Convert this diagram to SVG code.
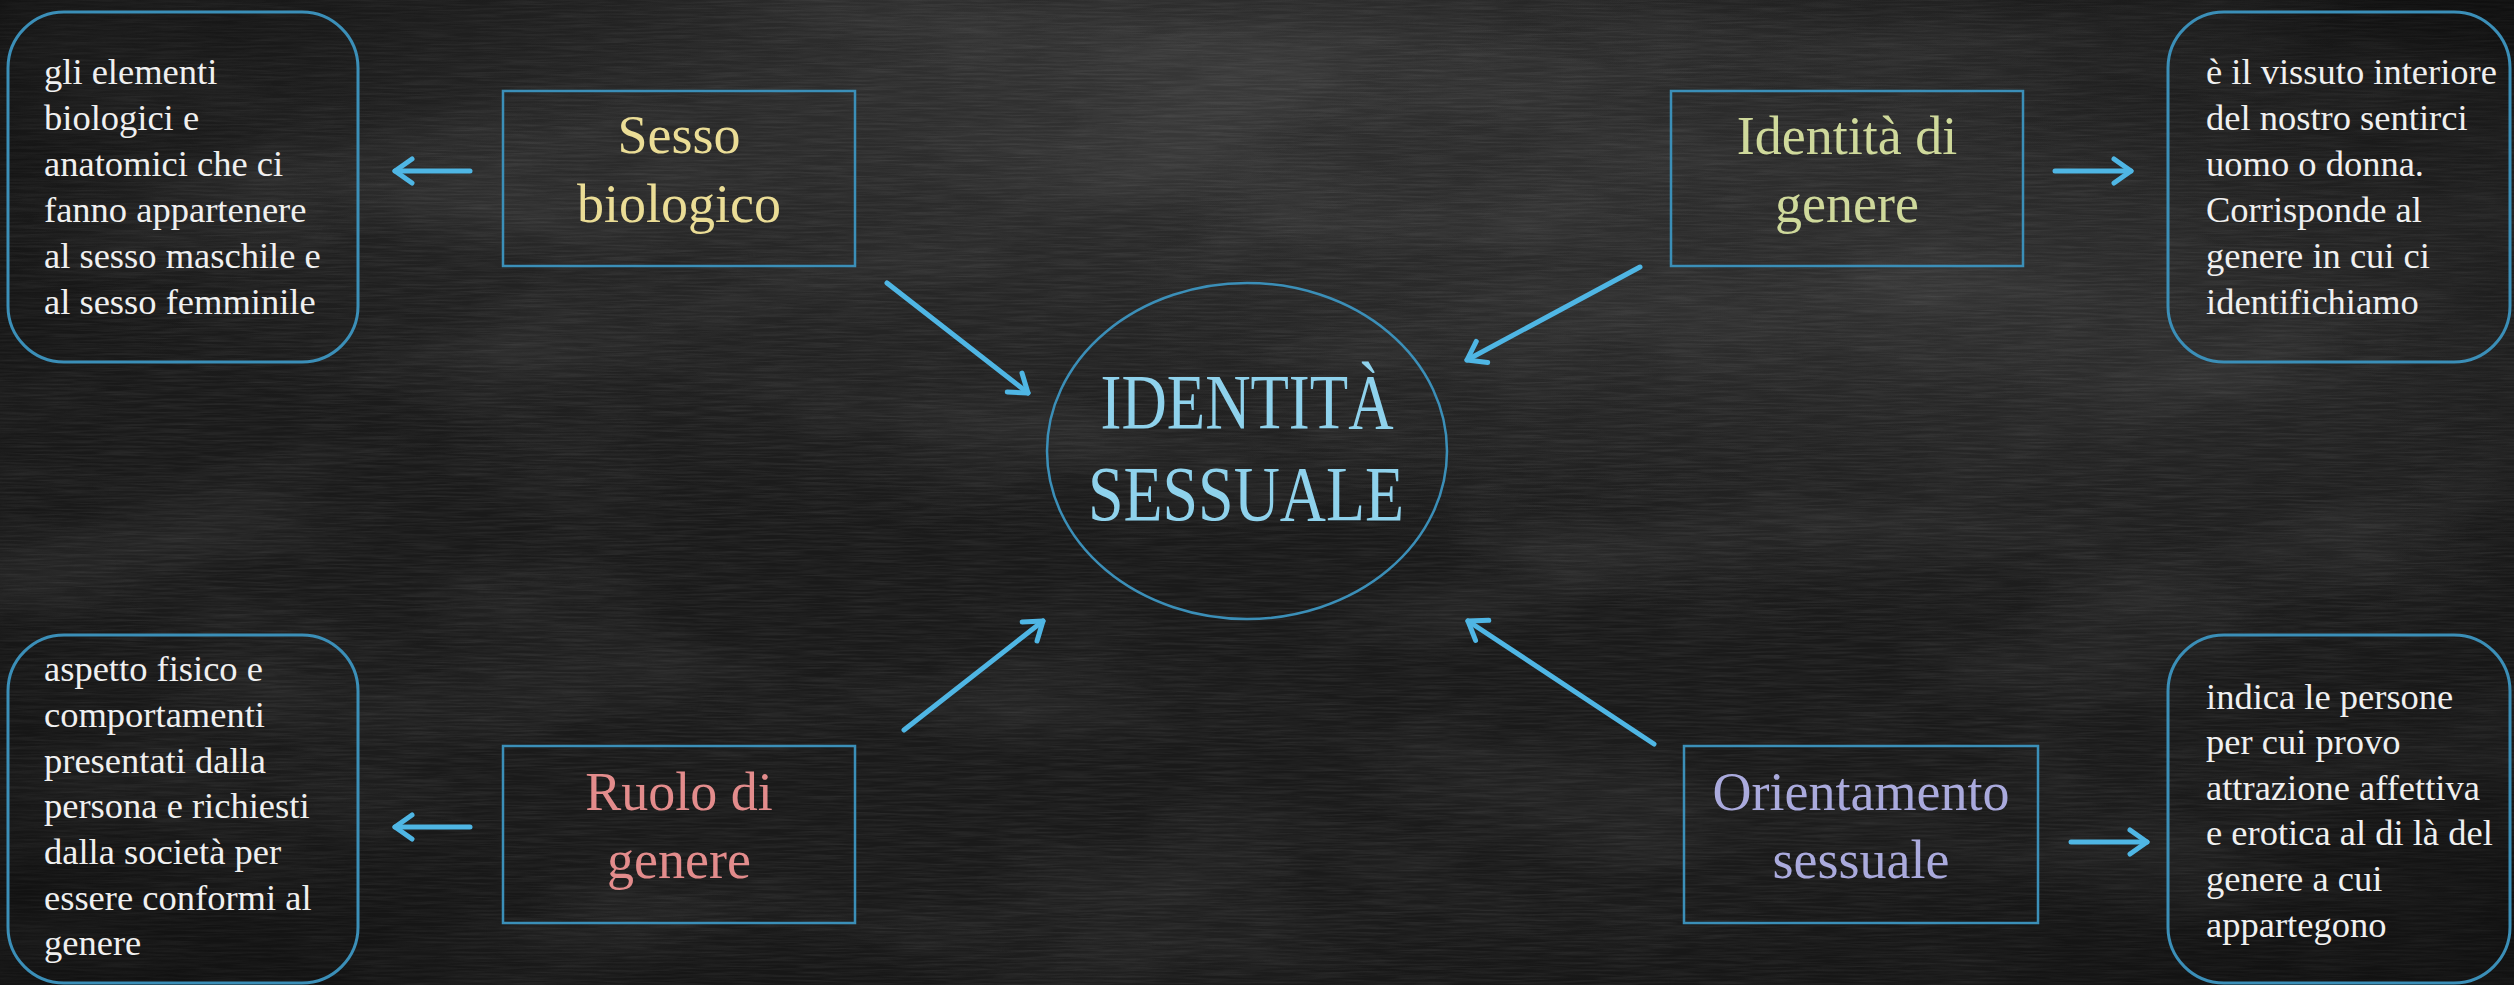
<svg xmlns="http://www.w3.org/2000/svg" width="2514" height="985" viewBox="0 0 2514 985">
<defs>
<style>
.bg{fill:#1a1a1a}
.desc{fill:none;stroke:#3b8fb8;stroke-width:3}
.node{fill:none;stroke:#3b8fb8;stroke-width:2.5}
.dt{font-family:"Liberation Serif","Times New Roman",serif;font-size:36.5px;fill:#f0f0f0}
.nt{font-family:"Liberation Serif","Times New Roman",serif;font-size:54px;text-anchor:middle}
.ct{font-family:"Liberation Serif","Times New Roman",serif;font-size:78px;text-anchor:middle;fill:#8fd2ec}
.arr{fill:none;stroke:#4fb6e4;stroke-width:5;stroke-linecap:round;marker-end:url(#head)}
</style>
<marker id="head" viewBox="0 0 24 30" refX="21" refY="15" markerWidth="24" markerHeight="30" markerUnits="userSpaceOnUse" orient="auto">
<path d="M4,3 L21,15 L4,27" fill="none" stroke="#4fb6e4" stroke-width="5" stroke-linecap="round" stroke-linejoin="round"/>
</marker>
<radialGradient id="g1" cx="0.45" cy="0.05" r="0.5">
<stop offset="0" stop-color="#3a3a3a" stop-opacity="0.8"/>
<stop offset="1" stop-color="#3a3a3a" stop-opacity="0"/>
</radialGradient>
<radialGradient id="g2" cx="0.8" cy="0.3" r="0.35">
<stop offset="0" stop-color="#363636" stop-opacity="0.7"/>
<stop offset="1" stop-color="#363636" stop-opacity="0"/>
</radialGradient>
<radialGradient id="g3" cx="0.5" cy="0.5" r="0.75">
<stop offset="0.6" stop-color="#000" stop-opacity="0"/>
<stop offset="1" stop-color="#000" stop-opacity="0.5"/>
</radialGradient>
<filter id="streaks" x="0" y="0" width="100%" height="100%">
<feTurbulence type="fractalNoise" baseFrequency="0.02 0.5" numOctaves="3" seed="7"/>
<feColorMatrix values="0 0 0 0 1  0 0 0 0 1  0 0 0 0 1  0.4 0 0 0 -0.14"/>
</filter>
<filter id="clouds" x="0" y="0" width="100%" height="100%">
<feTurbulence type="fractalNoise" baseFrequency="0.003 0.008" numOctaves="4" seed="11"/>
<feColorMatrix values="0 0 0 0 1  0 0 0 0 1  0 0 0 0 1  0.5 0 0 0 -0.22"/>
</filter>
</defs>

<g id="background">
<rect class="bg" x="0" y="0" width="2514" height="985"/>
<rect x="0" y="0" width="2514" height="985" fill="url(#g1)"/>
<rect x="0" y="0" width="2514" height="985" fill="url(#g2)"/>
<rect x="0" y="0" width="2514" height="985" filter="url(#clouds)" opacity="0.3"/>
<rect x="0" y="0" width="2514" height="985" filter="url(#streaks)" opacity="0.35"/>
<rect x="0" y="0" width="2514" height="985" fill="url(#g3)"/>
</g>

<g id="connectors">
<line class="arr" x1="470" y1="171" x2="395" y2="171"/>
<line class="arr" x1="2055" y1="171" x2="2131" y2="171"/>
<line class="arr" x1="470" y1="827" x2="395" y2="827"/>
<line class="arr" x1="2071" y1="842" x2="2147" y2="842"/>
<line class="arr" x1="887" y1="283" x2="1028" y2="393"/>
<line class="arr" x1="1640" y1="267" x2="1467" y2="360"/>
<line class="arr" x1="904" y1="730" x2="1043" y2="621"/>
<line class="arr" x1="1654" y1="744" x2="1468" y2="621"/>
</g>

<g id="center">
<ellipse cx="1247" cy="451" rx="200" ry="168" fill="none" stroke="#3b8fb8" stroke-width="2.5"/>
<text class="ct" x="1247" y="428" textLength="293" lengthAdjust="spacingAndGlyphs">IDENTITÀ</text>
<text class="ct" x="1246" y="520" textLength="316" lengthAdjust="spacingAndGlyphs">SESSUALE</text>
</g>

<g id="sesso-biologico">
<rect class="node" x="503" y="91" width="352" height="175"/>
<text class="nt" x="679" y="153" fill="#ebdd96">Sesso</text>
<text class="nt" x="679" y="222" fill="#ebdd96">biologico</text>
</g>

<g id="identita-genere">
<rect class="node" x="1671" y="91" width="352" height="175"/>
<text class="nt" x="1847" y="154" fill="#cfd99b">Identità di</text>
<text class="nt" x="1847" y="222" fill="#cfd99b">genere</text>
</g>

<g id="ruolo-genere">
<rect class="node" x="503" y="746" width="352" height="177"/>
<text class="nt" x="679" y="810" fill="#e38c8c">Ruolo di</text>
<text class="nt" x="679" y="878" fill="#e38c8c">genere</text>
</g>

<g id="orientamento-sessuale">
<rect class="node" x="1684" y="746" width="354" height="177"/>
<text class="nt" x="1861" y="810" fill="#aaaadd">Orientamento</text>
<text class="nt" x="1861" y="878" fill="#aaaadd">sessuale</text>
</g>

<g id="desc-sesso">
<rect class="desc" x="8" y="12" width="350" height="350" rx="56" ry="56"/>
<text class="dt" x="44" y="84">gli elementi</text>
<text class="dt" x="44" y="130">biologici e</text>
<text class="dt" x="44" y="176">anatomici che ci</text>
<text class="dt" x="44" y="222">fanno appartenere</text>
<text class="dt" x="44" y="268">al sesso maschile e</text>
<text class="dt" x="44" y="314">al sesso femminile</text>
</g>

<g id="desc-identita">
<rect class="desc" x="2168" y="12" width="342" height="350" rx="56" ry="56"/>
<text class="dt" x="2206" y="84">è il vissuto interiore</text>
<text class="dt" x="2206" y="130">del nostro sentirci</text>
<text class="dt" x="2206" y="176">uomo o donna.</text>
<text class="dt" x="2206" y="222">Corrisponde al</text>
<text class="dt" x="2206" y="268">genere in cui ci</text>
<text class="dt" x="2206" y="314">identifichiamo</text>
</g>

<g id="desc-ruolo">
<rect class="desc" x="8" y="635" width="350" height="348" rx="56" ry="56"/>
<text class="dt" x="44" y="681">aspetto fisico e</text>
<text class="dt" x="44" y="727">comportamenti</text>
<text class="dt" x="44" y="773">presentati dalla</text>
<text class="dt" x="44" y="818">persona e richiesti</text>
<text class="dt" x="44" y="864">dalla società per</text>
<text class="dt" x="44" y="910">essere conformi al</text>
<text class="dt" x="44" y="955">genere</text>
</g>

<g id="desc-orientamento">
<rect class="desc" x="2168" y="635" width="342" height="348" rx="56" ry="56"/>
<text class="dt" x="2206" y="709">indica le persone</text>
<text class="dt" x="2206" y="754">per cui provo</text>
<text class="dt" x="2206" y="800">attrazione affettiva</text>
<text class="dt" x="2206" y="845">e erotica al di là del</text>
<text class="dt" x="2206" y="891">genere a cui</text>
<text class="dt" x="2206" y="937">appartegono</text>
</g>
</svg>
